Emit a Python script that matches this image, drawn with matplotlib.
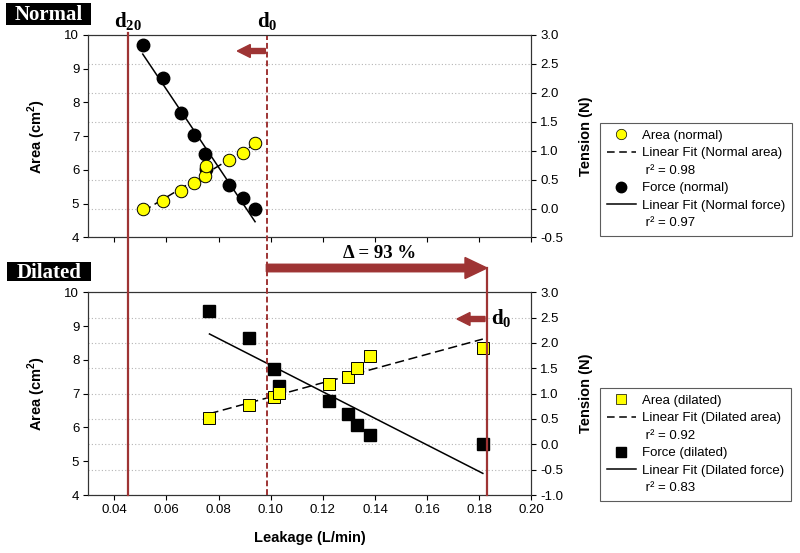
import numpy as np
import matplotlib.pyplot as plt
from matplotlib.lines import Line2D
from matplotlib.patches import FancyArrow, Rectangle

plt.rcParams['font.family'] = ['Liberation Sans', 'DejaVu Sans']
plt.rcParams['axes.unicode_minus'] = False
plt.rcParams['mathtext.fontset'] = 'custom'
plt.rcParams['mathtext.rm'] = 'Liberation Serif'
plt.rcParams['mathtext.bf'] = 'Liberation Serif:bold'
plt.rcParams['mathtext.sf'] = 'Liberation Sans:bold'

# Normal valve
normal_leak = [0.0509, 0.0588, 0.0656, 0.0707, 0.0748, 0.0753, 0.0839, 0.0894, 0.0940]
normal_area = [4.84, 5.09, 5.38, 5.62, 5.82, 6.12, 6.30, 6.51, 6.79]
normal_force = [2.83, 2.26, 1.65, 1.28, 0.94, 0.68, 0.41, 0.18, 0.00]
normal_r2 = [0.98, 0.97]

# Dilated valve
dilated_leak = [0.0765, 0.0918, 0.1014, 0.1032, 0.1225, 0.1298, 0.1330, 0.1382, 0.1814]
dilated_area = [6.29, 6.65, 6.90, 7.02, 7.30, 7.48, 7.75, 8.11, 8.36]
dilated_force = [2.63, 2.10, 1.49, 1.15, 0.86, 0.59, 0.38, 0.18, 0.01]
dilated_r2 = [0.92, 0.83]

# reference leakages
d20 = 0.0451
d0_normal = 0.0987
d0_dilated = 0.183
increase = 93

x_ticks = [0.04, 0.06, 0.08, 0.10, 0.12, 0.14, 0.16, 0.18, 0.20]
area_ticks = [4, 5, 6, 7, 8, 9, 10]
tension_ticks_top = [-0.5, 0.0, 0.5, 1.0, 1.5, 2.0, 2.5, 3.0]
tension_ticks_bottom = [-1.0, -0.5, 0.0, 0.5, 1.0, 1.5, 2.0, 2.5, 3.0]

RED = '#9e3434'
W, H = 800, 553

fig = plt.figure(figsize=(8, 5.53), dpi=100)


def px(x, y):
    # pixel (from top-left) -> inches for dpi_scale_trans
    return x / 100, (H - y) / 100


def panel(rect, leak, area, force, marker, msize, tension_ticks, names, r2, xlabels):
    ax = fig.add_axes(rect)
    ax2 = ax.twinx()
    ax.set_zorder(ax2.get_zorder() + 1)
    ax.patch.set_visible(False)

    ax2.grid(axis='y', color='#b5b5b5', linestyle=(0, (1, 2)), linewidth=0.8)
    ax2.set_axisbelow(True)

    # area (left axis)
    ax.plot(leak, area, linestyle='none', marker=marker, ms=msize,
            mfc='#ffff00', mec='black', mew=0.7, zorder=4)
    p = np.polyfit(leak, area, 1)
    xs = np.array([min(leak), max(leak)])
    ax.plot(xs, np.polyval(p, xs), color='black', lw=1.1,
            linestyle=(0, (6, 3)), zorder=3)

    # force (right axis)
    ax2.plot(leak, force, linestyle='none', marker=marker, ms=msize,
             mfc='black', mec='black', zorder=4)
    p = np.polyfit(leak, force, 1)
    ax2.plot(xs, np.polyval(p, xs), color='black', lw=1.1, zorder=3)

    ax.set_xlim(0.03, 0.20)
    ax.set_ylim(4, 10)
    ax2.set_ylim(tension_ticks[0], tension_ticks[-1])
    ax.set_xticks(x_ticks)
    ax.set_yticks(area_ticks)
    ax2.set_yticks(tension_ticks)
    ax2.set_yticklabels([f'{t:.1f}' for t in tension_ticks])
    if xlabels:
        ax.set_xticklabels([f'{t:.2f}' for t in x_ticks])
    else:
        ax.set_xticklabels([])
    for a in (ax, ax2):
        a.tick_params(direction='out', length=3.5, width=0.8, labelsize=9.5,
                      colors='black', pad=3)
        for s in a.spines.values():
            s.set_linewidth(0.8)
            s.set_color('#333333')

    ax.set_ylabel(r'Area (cm$^{\mathsf{2}}$)', fontsize=10.5, fontweight='bold')
    ax.yaxis.set_label_coords(-0.09, 0.5)
    ax2.set_ylabel('Tension (N)', fontsize=10.5, fontweight='bold')
    ax2.yaxis.set_label_coords(1.108, 0.5)

    handles = [
        Line2D([], [], linestyle='none', marker=marker, ms=msize - 1.5,
               mfc='#ffff00', mec='black', mew=0.5),
        Line2D([], [], color='black', lw=1.1, linestyle=(0, (5, 3))),
        Line2D([], [], linestyle='none'),
        Line2D([], [], linestyle='none', marker=marker, ms=msize - 1.5,
               mfc='black', mec='black'),
        Line2D([], [], color='black', lw=1.1),
        Line2D([], [], linestyle='none'),
    ]
    labels = [names[0], names[1], f' r² = {r2[0]:.2f}',
              names[2], names[3], f' r² = {r2[1]:.2f}']
    return ax, ax2, handles, labels


top_rect = [88.3 / W, 1 - 237.5 / H, (531.3 - 88.3) / W, (237.5 - 35) / H]
bot_rect = [88.3 / W, 1 - 495 / H, (531.3 - 88.3) / W, (495 - 292.3) / H]

ax_t, ax_t2, h_t, l_t = panel(top_rect, normal_leak, normal_area, normal_force, 'o', 9,
                              tension_ticks_top,
                              ['Area (normal)', 'Linear Fit (Normal area)',
                               'Force (normal)', 'Linear Fit (Normal force)'],
                              normal_r2, False)
ax_b, ax_b2, h_b, l_b = panel(bot_rect, dilated_leak, dilated_area, dilated_force, 's', 8,
                              tension_ticks_bottom,
                              ['Area (dilated)', 'Linear Fit (Dilated area)',
                               'Force (dilated)', 'Linear Fit (Dilated force)'],
                              dilated_r2, True)
ax_b.set_xlabel('Leakage (L/min)', fontsize=10.5, fontweight='bold')
ax_b.xaxis.set_label_coords(0.5, -0.18)

for h, l, top in ((h_t, l_t, 123), (h_b, l_b, 388)):
    leg = fig.legend(h, l, loc='upper left', bbox_to_anchor=(600 / W, 1 - top / H),
                     fontsize=9.5, frameon=True, fancybox=False, handlelength=2.2,
                     labelspacing=0.4, borderpad=0.5, handletextpad=0.5,
                     borderaxespad=0)
    leg.get_frame().set_edgecolor('#333333')
    leg.get_frame().set_linewidth(0.8)


def xpix(ax, val):
    return ax.transData.transform((val, 0))[0]


# vertical reference lines spanning both panels
x20 = xpix(ax_b, d20)
x0n = xpix(ax_b, d0_normal)
x0d = xpix(ax_b, d0_dilated)
y_bot = (H - 495) / 100
fig.add_artist(Line2D([x20 / 100] * 2, [y_bot, (H - 33) / 100], color=RED, lw=1.6,
                      transform=fig.dpi_scale_trans, zorder=5))
fig.add_artist(Line2D([x0n / 100] * 2, [y_bot, (H - 36) / 100], color=RED, lw=1.4,
                      linestyle=(0, (3, 1.5)), transform=fig.dpi_scale_trans, zorder=5))
fig.add_artist(Line2D([x0d / 100] * 2, [y_bot, (H - 268) / 100], color=RED, lw=1.6,
                      transform=fig.dpi_scale_trans, zorder=5))

# arrows
x, y = px(x0n - 1, 268)
fig.add_artist(FancyArrow(x, y, (x0d - x0n + 1) / 100, 0, width=0.075, head_width=0.21,
                          head_length=0.22, length_includes_head=True, color=RED,
                          transform=fig.dpi_scale_trans, zorder=6))
x, y = px(x0n - 2, 51)
fig.add_artist(FancyArrow(x, y, -0.28, 0, width=0.05, head_width=0.13,
                          head_length=0.13, length_includes_head=True, color=RED,
                          transform=fig.dpi_scale_trans, zorder=6))
x, y = px(x0d - 2, 319)
fig.add_artist(FancyArrow(x, y, -0.28, 0, width=0.05, head_width=0.13,
                          head_length=0.13, length_includes_head=True, color=RED,
                          transform=fig.dpi_scale_trans, zorder=6))

# labels
serif = ['Liberation Serif', 'DejaVu Serif']
fig.text(*px(x20, 27), r'$\mathbf{d}_{\mathbf{20}}$', ha='center', va='baseline',
         fontsize=15, transform=fig.dpi_scale_trans)
fig.text(*px(x0n, 27), r'$\mathbf{d}_{\mathbf{0}}$', ha='center', va='baseline',
         fontsize=15, transform=fig.dpi_scale_trans)
fig.text(*px(x0d + 14, 324), r'$\mathbf{d}_{\mathbf{0}}$', ha='center', va='baseline',
         fontsize=15, transform=fig.dpi_scale_trans)
fig.text(*px(380, 258), f'Δ = {increase} %', ha='center', va='baseline', fontsize=13.5,
         fontweight='bold', family=serif, transform=fig.dpi_scale_trans)

for label, (x0, y0, x1, y1) in (('Normal', (6, 3, 91, 25)), ('Dilated', (7, 262, 91, 281))):
    fig.add_artist(Rectangle(px(x0, y1), (x1 - x0) / 100, (y1 - y0) / 100,
                             facecolor='black', edgecolor='none',
                             transform=fig.dpi_scale_trans))
    fig.text(*px((x0 + x1) / 2, (y0 + y1) / 2 + 1), label, ha='center', va='center',
             fontsize=15, color='white', fontweight='bold', family=serif,
             transform=fig.dpi_scale_trans)

fig.savefig('out.png', dpi=100)
